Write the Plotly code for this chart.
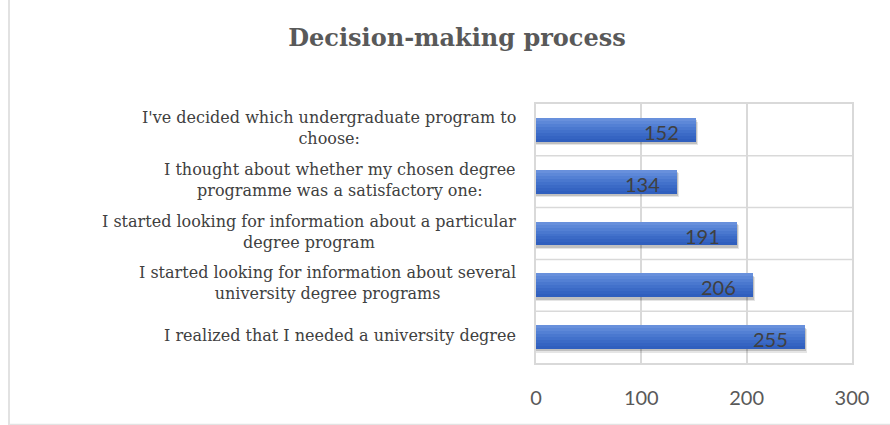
import plotly.graph_objects as go

# Survey statements (top to bottom) and number of respondents
statements = [
    "I've decided which undergraduate program to<br>choose:",
    "I thought about whether my chosen degree<br>programme was a satisfactory one:",
    "I started looking for information about a particular<br>degree program",
    "I started looking for information about several<br>university degree programs",
    "I realized that I needed a university degree",
]
respondents = [152, 134, 191, 206, 255]
x_ticks = [0, 100, 200, 300]
chart_title = "Decision-making process"

W, H = 890, 425
M_L, M_R, M_T, M_B = 536, 38, 104, 62
plot_w = W - M_L - M_R
plot_h = H - M_T - M_B

BAR_W = 0.46
GRID = "#d9d9d9"
SERIF = "DejaVu Serif"
SANS = "Lato"

fig = go.Figure()

# soft drop shadow under each bar
fig.add_trace(go.Bar(
    y=statements, x=[v + 2 for v in respondents], orientation="h",
    width=BAR_W, offset=-BAR_W / 2 + 0.07,
    marker=dict(color="rgba(0,0,0,0.10)", line=dict(width=0)),
    hoverinfo="skip", showlegend=False,
))
fig.add_trace(go.Bar(
    y=statements, x=[v + 1 for v in respondents], orientation="h",
    width=BAR_W, offset=-BAR_W / 2 + 0.045,
    marker=dict(color="rgba(0,0,0,0.16)", line=dict(width=0)),
    hoverinfo="skip", showlegend=False,
))

# vertical gradient on the bars, drawn as thin horizontal strips
strip_colors = ["#6890dc", "#5d88d8", "#5380d4", "#4a78cf", "#4271cb",
                "#3b6ac6", "#3564c2", "#305fbe"]
n = len(strip_colors)
sw = BAR_W / n
for k, c in enumerate(strip_colors):
    fig.add_trace(go.Bar(
        y=statements, x=respondents, orientation="h",
        width=sw * 1.02, offset=-BAR_W / 2 + k * sw,
        marker=dict(color=c, line=dict(width=0)),
        hoverinfo="skip", showlegend=False,
    ))

# horizontal separators between categories
for i in range(1, len(statements)):
    fig.add_shape(type="line", xref="paper", yref="y",
                  x0=0, x1=1, y0=i - 0.5, y1=i - 0.5,
                  line=dict(color=GRID, width=1.5), layer="below")

# outer frame (left and bottom edges)
fx = (9 - M_L) / plot_w
fig.add_shape(type="line", xref="paper", yref="paper",
              x0=fx, x1=fx, y0=-M_B / plot_h, y1=1 + M_T / plot_h,
              line=dict(color="#d9d9d9", width=1.5))
fig.add_shape(type="line", xref="paper", yref="paper",
              x0=fx, x1=1 + M_R / plot_w,
              y0=(-M_B + 0.5) / plot_h, y1=(-M_B + 0.5) / plot_h,
              line=dict(color="#e3e3e3", width=1.5))

annotations = []
label_font = dict(family=SERIF, size=16, color="#404040")
# category labels: centred lines in a block right-aligned beside the plot
for s in statements:
    annotations.append(dict(
        x=0, xref="paper", y=s, yref="y", xanchor="right", yanchor="middle",
        xshift=-18, yshift=2, text=s, showarrow=False, align="center",
        font=label_font))

# value labels inside the bar ends
for s, v in zip(statements, respondents):
    annotations.append(dict(
        x=v, y=s, xref="x", yref="y", xanchor="right", yanchor="middle",
        xshift=-15, yshift=-2, text=str(v), showarrow=False,
        font=dict(family=SANS, size=20, color="#404040")))

fig.update_layout(
    width=W, height=H,
    margin=dict(l=M_L, r=M_R, t=M_T, b=M_B),
    paper_bgcolor="white", plot_bgcolor="white",
    barmode="overlay", bargap=0,
    showlegend=False,
    title=dict(text="<b>" + chart_title + "</b>", x=457 / W, xanchor="center",
               y=1 - 38 / H, yanchor="middle",
               font=dict(family=SERIF, size=24, color="#595959")),
    annotations=annotations,
    xaxis=dict(range=[0, 300], tickvals=x_ticks, showgrid=True,
               gridcolor=GRID, gridwidth=1.5, zeroline=False,
               showline=True, linecolor=GRID, linewidth=1.5, mirror=True,
               ticks="outside", ticklen=0, ticklabelstandoff=16,
               tickfont=dict(family=SANS, size=20, color="#595959")),
    yaxis=dict(categoryorder="array", categoryarray=statements,
               autorange="reversed", showticklabels=False, showgrid=False,
               zeroline=False, showline=True, linecolor=GRID, linewidth=1.5,
               mirror=True),
)

fig.write_html("out.html")
